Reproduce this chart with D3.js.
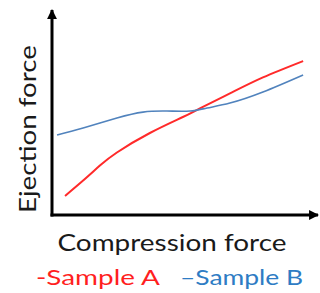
<!DOCTYPE html>
<html>
<head>
<meta charset="utf-8">
<script src="https://cdn.jsdelivr.net/npm/d3@7"></script>
<style>
  body { margin: 0; background: #fff; }
  svg { display: block; }
</style>
</head>
<body>
<div id="chart"></div>
<script>
// data (arbitrary units, no ticks)
var sampleA_x = [0.49, 1.17, 1.8, 2.44, 3.68, 4.92, 5.56, 6.69, 7.93, 9.44]
var sampleA_y = [0.93, 1.68, 2.41, 3.05, 4.0, 4.78, 5.2, 5.93, 6.71, 7.51]
var sampleB_x = [0.19, 1.17, 2.44, 3.42, 4.32, 5.19, 5.83, 6.69, 7.93, 9.44]
var sampleB_y = [3.9, 4.24, 4.73, 5.02, 5.07, 5.07, 5.22, 5.46, 6.0, 6.83]
var series_names = ["-Sample A", "\u2013Sample B"]
var series_colors = ["#ff2a2a", "#5183bd"]
var text_colors = ["#ff1f1f", "#2e7cc4"]

var width = 320, height = 293

var svg = d3.select("#chart").append("svg")
  .attr("width", width)
  .attr("height", height)

var x = d3.scaleLinear().domain([0, 10]).range([52, 318])
var y = d3.scaleLinear().domain([0, 10]).range([215, 10])

// arrow heads
var defs = svg.append("defs")
defs.append("marker")
  .attr("id", "arrow")
  .attr("viewBox", "0 0 10 10")
  .attr("refX", 9).attr("refY", 5)
  .attr("markerWidth", 3.3).attr("markerHeight", 3.3)
  .attr("orient", "auto")
  .append("path")
  .attr("d", "M0,0 L10,5 L0,10 z")
  .attr("fill", "#000")

// axes
svg.append("line")
  .attr("x1", x(0)).attr("y1", y(0) + 1.5)
  .attr("x2", x(0)).attr("y2", y(10))
  .attr("stroke", "#000").attr("stroke-width", 3)
  .attr("marker-end", "url(#arrow)")
svg.append("line")
  .attr("x1", x(0) - 1.5).attr("y1", y(0))
  .attr("x2", x(10)).attr("y2", y(0))
  .attr("stroke", "#000").attr("stroke-width", 3)
  .attr("marker-end", "url(#arrow)")

var line = d3.line()
  .x(function(d) { return x(d[0]) })
  .y(function(d) { return y(d[1]) })
  .curve(d3.curveNatural)

var seriesData = [d3.zip(sampleA_x, sampleA_y), d3.zip(sampleB_x, sampleB_y)]

svg.selectAll("path.series")
  .data(seriesData)
  .enter()
  .append("path")
  .attr("class", "series")
  .attr("d", line)
  .attr("fill", "none")
  .attr("stroke", function(d, i) { return series_colors[i] })
  .attr("stroke-width", function(d, i) { return i == 0 ? 2 : 1.6 })

// axis titles
svg.append("text")
  .attr("x", 172).attr("y", 251)
  .attr("text-anchor", "middle")
  .attr("font-family", "Lato, 'Open Sans', sans-serif")
  .attr("font-size", 23)
  .attr("fill", "#1a1a1a")
  .attr("textLength", 229).attr("lengthAdjust", "spacingAndGlyphs")
  .text("Compression force")

svg.append("text")
  .attr("transform", "translate(36,129) rotate(-90)")
  .attr("text-anchor", "middle")
  .attr("font-family", "Lato, 'Open Sans', sans-serif")
  .attr("font-size", 23)
  .attr("fill", "#1a1a1a")
  .attr("textLength", 168).attr("lengthAdjust", "spacingAndGlyphs")
  .text("Ejection force")

// legend
var legendX = [36, 180]
var legendW = [124, 123]
svg.selectAll("text.legend")
  .data(series_names)
  .enter()
  .append("text")
  .attr("class", "legend")
  .attr("x", function(d, i) { return legendX[i] })
  .attr("y", 285)
  .attr("font-family", "Lato, 'Open Sans', sans-serif")
  .attr("font-size", 22)
  .attr("fill", function(d, i) { return text_colors[i] })
  .attr("textLength", function(d, i) { return legendW[i] })
  .attr("lengthAdjust", "spacingAndGlyphs")
  .text(function(d) { return d })
</script>
</body>
</html>
